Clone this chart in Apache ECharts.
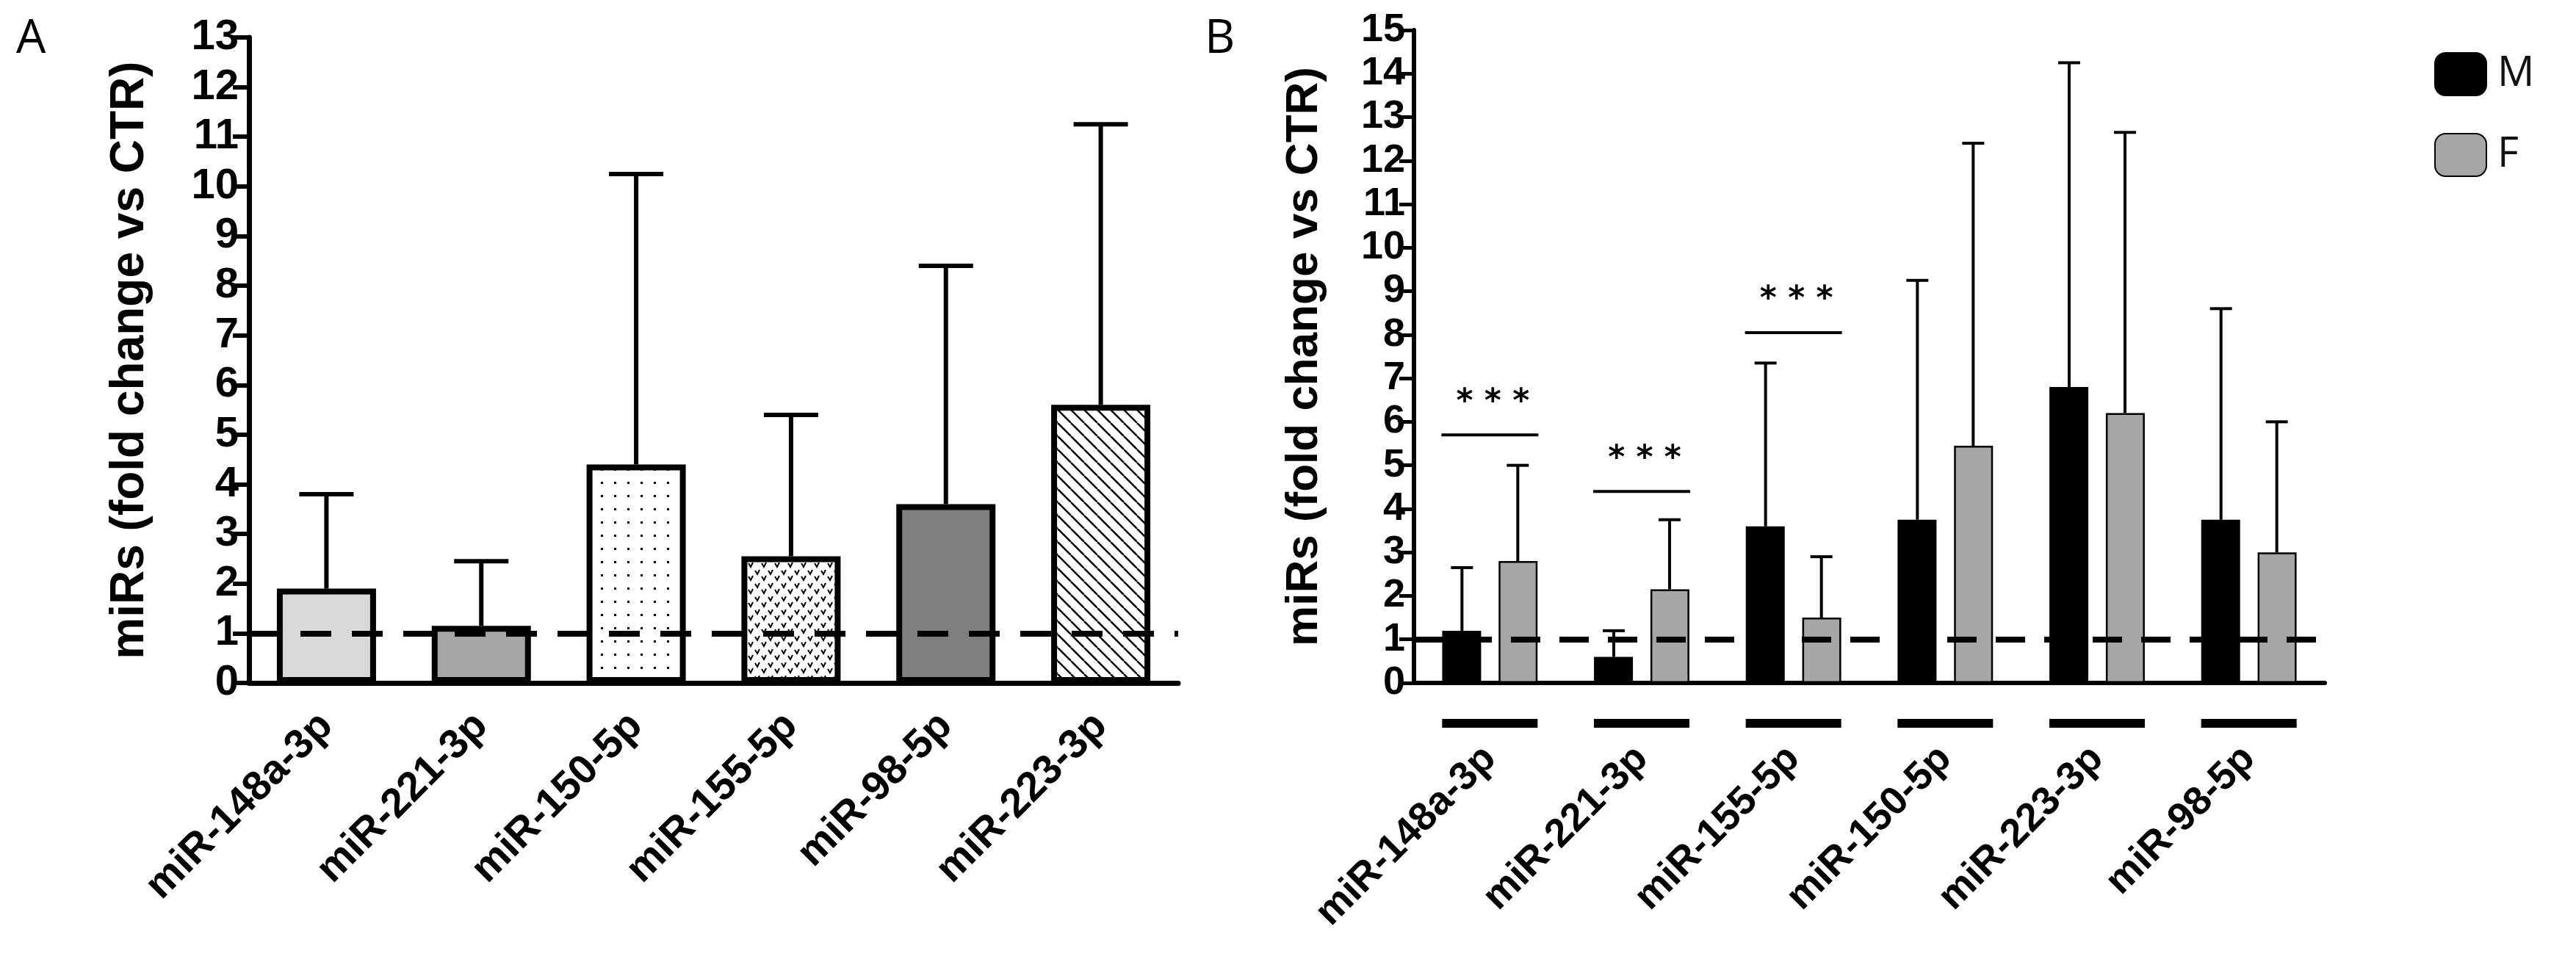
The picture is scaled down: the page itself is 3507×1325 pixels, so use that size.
<!DOCTYPE html>
<html><head><meta charset="utf-8">
<script src="https://cdn.jsdelivr.net/npm/echarts@6/dist/echarts.min.js"></script>
<style>html,body{margin:0;padding:0;background:#fff}#c{width:3507px;height:1325px}</style>
</head><body><div id="c"></div>
<script>
// Panel A
const catsA = ['miR-148a-3p','miR-221-3p','miR-150-5p','miR-155-5p','miR-98-5p','miR-223-3p'];
const meanA = [1.9, 1.15, 4.4, 2.55, 3.6, 5.6];
const errTopA = [3.8, 2.45, 10.25, 5.4, 8.4, 11.25];
// Panel B
const catsB = ['miR-148a-3p','miR-221-3p','miR-155-5p','miR-150-5p','miR-223-3p','miR-98-5p'];
const meanM = [1.2, 0.6, 3.6, 3.75, 6.8, 3.75];
const errTopM = [2.65, 1.2, 7.35, 9.25, 14.25, 8.6];
const meanF = [2.8, 2.15, 1.5, 5.45, 6.2, 3.0];
const errTopF = [5.0, 3.75, 2.9, 12.4, 12.65, 6.0];
const sigB = [[0, 5.7], [1, 4.4], [2, 8.05]];
const ticksA = [0,1,2,3,4,5,6,7,8,9,10,11,12,13];
const ticksB = [0,1,2,3,4,5,6,7,8,9,10,11,12,13,14,15];

function pat(draw, s){const c=document.createElement('canvas');c.width=s;c.height=s;const g=c.getContext('2d');g.fillStyle='#fff';g.fillRect(0,0,s,s);draw(g,s);return {image:c,repeat:'repeat'};}
const dots = pat((g)=>{g.fillStyle='#000';g.fillRect(8,8,3,3);},18);
const vdots = pat((g)=>{g.strokeStyle='#000';g.lineWidth=2;g.beginPath();g.moveTo(2,3);g.lineTo(5,8);g.lineTo(8,2);g.stroke();g.beginPath();g.moveTo(11,11);g.lineTo(14,16);g.lineTo(17,10);g.stroke();},18);
const hatch = pat((g,s)=>{g.strokeStyle='#000';g.lineWidth=2.5;for(let k=-1;k<=1;k++){g.beginPath();g.moveTo(k*s,0);g.lineTo(k*s+s,s);g.stroke();}},18);
const fillsA = ['#d9d9d9','#a6a6a6',dots,vdots,'#7f7f7f',hatch];

const font = '"Liberation Sans", Arial, sans-serif';
const ch = echarts.init(document.getElementById('c'));

function errItem(offset, capW, lw, tops, means){
  return function(params, api){
    const i = api.value(0);
    const p0 = api.coord([i, means[i]]);
    const p1 = api.coord([i, tops[i]]);
    const x = p0[0] + offset;
    return {type:'group', children:[
      {type:'line', shape:{x1:x,y1:p0[1],x2:x,y2:p1[1]}, style:{stroke:'#000',lineWidth:lw}},
      {type:'line', shape:{x1:x-capW/2,y1:p1[1],x2:x+capW/2,y2:p1[1]}, style:{stroke:'#000',lineWidth:lw}}
    ]};
  };
}

const axisLbl = (size)=>({fontFamily:font, fontWeight:'bold', fontSize:size, color:'#000'});

ch.setOption({
  backgroundColor:'#fff',
  animation:false,
  graphic:[
    {type:'text', left:22, top:22, style:{text:'A', fontSize:64, fontFamily:'"Open Sans", sans-serif', fill:'#000'}},
    {type:'text', left:1640, top:22, style:{text:'B', fontSize:64, fontFamily:'"Open Sans", sans-serif', fill:'#000'}}
  ],
  legend:{left:3309, top:66, orient:'vertical', itemWidth:70, itemHeight:58, itemGap:50,
    textStyle:{fontSize:56, fontFamily:'"Open Sans", sans-serif', color:'#111', padding:[0,0,0,10]},
    data:['M','F']},
  grid:[
    {left:339, top:51, width:1265, height:879},
    {left:1925, top:41, width:1240, height:889}
  ],
  xAxis:[
    {gridIndex:0, type:'category', data:catsA,
      axisLine:{lineStyle:{color:'#000',width:7}},
      axisTick:{alignWithLabel:true,length:28,lineStyle:{color:'#000',width:6}},
      axisLabel:{...axisLbl(56), rotate:45, margin:50}},
    {gridIndex:1, type:'category', data:catsB,
      axisLine:{lineStyle:{color:'#000',width:6}},
      axisTick:{alignWithLabel:true,length:26,lineStyle:{color:'#000',width:5}},
      axisLabel:{...axisLbl(54), rotate:45, margin:95}}
  ],
  yAxis:[
    {gridIndex:0, type:'value', min:0, max:13, interval:1,
      name:'miRs (fold change vs CTR)', nameLocation:'middle', nameGap:130,
      nameTextStyle:{fontFamily:font,fontWeight:'bold',fontSize:64,color:'#000'},
      axisLine:{show:true,lineStyle:{color:'#000',width:7}},
      axisTick:{show:true,length:22,lineStyle:{color:'#000',width:6}},
      splitLine:{show:false},
      axisLabel:{...axisLbl(58), margin:14}},
    {gridIndex:1, type:'value', min:0, max:15, interval:1,
      name:'miRs (fold change vs CTR)', nameLocation:'middle', nameGap:118,
      nameTextStyle:{fontFamily:font,fontWeight:'bold',fontSize:62,color:'#000'},
      axisLine:{show:true,lineStyle:{color:'#000',width:6}},
      axisTick:{show:true,length:20,lineStyle:{color:'#000',width:5}},
      splitLine:{show:false},
      axisLabel:{...axisLbl(54), margin:12}}
  ],
  series:[
    {type:'bar', xAxisIndex:0, yAxisIndex:0, barWidth:135, z:2,
      data: meanA.map((v,i)=>({value:v, itemStyle:{color:fillsA[i], borderColor:'#000', borderWidth:8}})),
      markLine:{silent:true, symbol:'none', label:{show:false},
        lineStyle:{color:'#000', width:8, type:[42,28]}, data:[{yAxis:1}]}},
    {type:'custom', xAxisIndex:0, yAxisIndex:0, z:1, data:meanA.map((v,i)=>[i]),
      renderItem: errItem(0, 74, 6, errTopA, meanA)},
    {name:'M', type:'bar', xAxisIndex:1, yAxisIndex:1, barWidth:53, barGap:'45%', z:2,
      itemStyle:{color:'#000', borderColor:'#000', borderWidth:2}, data:meanM,
      markLine:{silent:true, symbol:'none', label:{show:false},
        lineStyle:{color:'#000', width:8, type:[40,26]}, data:[{yAxis:1}]}},
    {name:'F', type:'bar', xAxisIndex:1, yAxisIndex:1, barWidth:53, z:2,
      itemStyle:{color:'#a6a6a6', borderColor:'#000', borderWidth:2.5}, data:meanF},
    {type:'custom', xAxisIndex:1, yAxisIndex:1, z:1, data:meanM.map((v,i)=>[i]),
      renderItem: errItem(-38, 30, 4, errTopM, meanM)},
    {type:'custom', xAxisIndex:1, yAxisIndex:1, z:1, data:meanF.map((v,i)=>[i]),
      renderItem: errItem(38, 30, 4, errTopF, meanF)},
    {type:'custom', xAxisIndex:1, yAxisIndex:1, z:3, data:sigB,
      renderItem:function(params, api){
        const p = api.coord([api.value(0), api.value(1)]);
        return {type:'group', children:[
          {type:'line', shape:{x1:p[0]-66,y1:p[1],x2:p[0]+66,y2:p[1]}, style:{stroke:'#000',lineWidth:4}},
          {type:'text', x:p[0]+4, y:p[1]-22, style:{text:'* * *', fontSize:44, fontFamily:'"DejaVu Sans", sans-serif', fontWeight:'bold', fill:'#000', align:'center', verticalAlign:'bottom'}}
        ]};
      }},
    {type:'custom', xAxisIndex:1, yAxisIndex:1, z:3, clip:false, data:catsB.map((c,i)=>[i,0]),
      renderItem:function(params, api){
        const p = api.coord([api.value(0), 0]);
        return {type:'rect', shape:{x:p[0]-65, y:p[1]+49, width:130, height:12}, style:{fill:'#000'}};
      }}
  ]
});
</script></body></html>
